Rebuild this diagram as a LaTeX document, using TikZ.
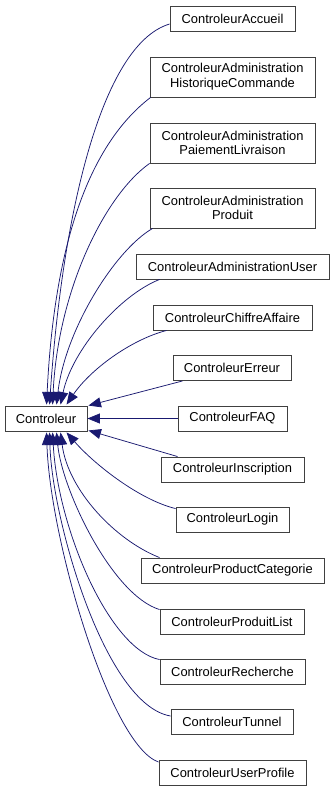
\documentclass[tikz,border=0pt]{standalone}
\usepackage{fontspec}
\setmainfont{Liberation Sans}
\usetikzlibrary{arrows.meta,calc}
\definecolor{edgeblue}{HTML}{191970}
\definecolor{boxline}{HTML}{404040}
\begin{document}
\begin{tikzpicture}[x=1pt,y=-1pt,
  classbox/.style={draw=boxline,line width=0.9pt,fill=white,inner sep=0pt,
    font=\fontsize{12.9}{14.7}\selectfont,align=center,minimum height=25pt},
  tallbox/.style={classbox,minimum height=40pt},
  inherit/.style={draw=edgeblue,line width=0.75pt,
    -{Triangle[length=12.5pt,width=10pt]}}]
\useasboundingbox (0,0) rectangle (335,792);

% base class
\node[classbox,minimum width=82pt] (ctrl) at (46,418.5) {Controleur};

% derived classes
\node[classbox,minimum width=125pt] (acc)   at (232.5,18.5)  {ControleurAccueil};
\node[tallbox, minimum width=165pt] (hist)  at (232.5,77)    {ControleurAdministration\\HistoriqueCommande};
\node[tallbox, minimum width=165pt] (paie)  at (232.5,143)   {ControleurAdministration\\PaiementLivraison};
\node[tallbox, minimum width=165pt] (prod)  at (232.5,208)   {ControleurAdministration\\Produit};
\node[classbox,minimum width=193pt] (auser) at (232.5,266.5) {ControleurAdministrationUser};
\node[classbox,minimum width=159pt] (chif)  at (232.5,317.5) {ControleurChiffreAffaire};
\node[classbox,minimum width=118pt] (err)   at (232,368)     {ControleurErreur};
\node[classbox,minimum width=109pt] (faq)   at (232.5,418.5) {ControleurFAQ};
\node[classbox,minimum width=143pt] (insc)  at (232.5,469.5) {ControleurInscription};
\node[classbox,minimum width=113pt] (login) at (232.5,519.5) {ControleurLogin};
\node[classbox,minimum width=183pt] (pcat)  at (232.5,570.5) {ControleurProductCategorie};
\node[classbox,minimum width=144pt] (plist) at (232,621.5)   {ControleurProduitList};
\node[classbox,minimum width=145pt] (rech)  at (232.5,671.5) {ControleurRecherche};
\node[classbox,minimum width=122pt] (tun)   at (232,722)     {ControleurTunnel};
\node[classbox,minimum width=147pt] (uprof) at (232.5,773)   {ControleurUserProfile};

% inheritance edges, entering the top of the base class
\draw[inherit] ($(acc.west)+(0,5.5)$)      .. controls (100,45)  and (62,220) .. ($(ctrl.north west)+(45,-1)$);
\draw[inherit] ($(hist.south west)+(1,0)$)  .. controls (95,140)  and (55,230) .. ($(ctrl.north west)+(42,-1)$);
\draw[inherit] ($(paie.south west)+(0,0)$)  .. controls (105,195) and (58,290) .. ($(ctrl.north west)+(48,-1)$);
\draw[inherit] ($(prod.south west)+(3,0)$)  .. controls (115,250) and (65,330) .. ($(ctrl.north west)+(52,-1)$);
\draw[inherit] ($(auser.south west)+(24,0)$) .. controls (120,295) and (72,350) .. ($(ctrl.north west)+(56,-1)$);
\draw[inherit] ($(chif.south west)+(14,0)$) .. controls (130,340) and (90,370) .. ($(ctrl.north west)+(62,-1)$);

% edges entering the right side
\draw[inherit] ($(err.south west)+(10,0)$) -- ($(ctrl.north east)+(1,0)$);
\draw[inherit] (faq.west) -- (ctrl.east);
\draw[inherit] ($(insc.north west)+(17,0)$) -- ($(ctrl.south east)+(1,-1)$);

% edges entering the bottom
\draw[inherit] ($(login.north west)+(0,2)$) .. controls (140,500) and (95,465) .. ($(ctrl.south west)+(62,1)$);
\draw[inherit] ($(pcat.north west)+(19,0)$) .. controls (115,540) and (68,490) .. ($(ctrl.south west)+(56,1)$);
\draw[inherit] ($(plist.north west)+(0,1)$) .. controls (112,595) and (62,490) .. ($(ctrl.south west)+(52,1)$);
\draw[inherit] ($(rech.north west)+(0,1)$)  .. controls (110,650) and (58,530) .. ($(ctrl.south west)+(48,1)$);
\draw[inherit] ($(tun.west)+(0,-6)$)        .. controls (105,705) and (52,520) .. ($(ctrl.south west)+(45,1)$);
\draw[inherit] ($(uprof.north west)+(0,2)$) .. controls (110,745) and (50,540) .. ($(ctrl.south west)+(42,1)$);
\end{tikzpicture}
\end{document}
